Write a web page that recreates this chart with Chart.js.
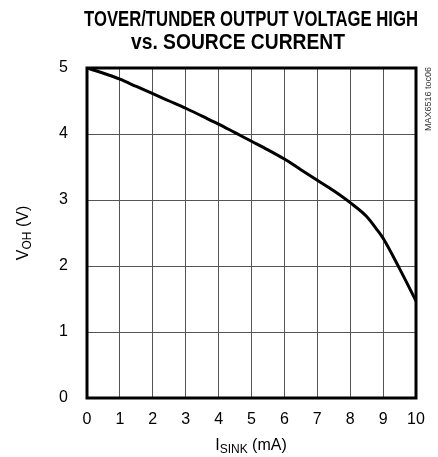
<!DOCTYPE html>
<html>
<head>
<meta charset="utf-8">
<script src="https://cdn.jsdelivr.net/npm/chart.js@4"></script>
<style>
  html, body { margin: 0; padding: 0; background: #fff; }
  #wrap { width: 438px; height: 457px; }
</style>
</head>
<body>
<div id="wrap"><canvas id="chart" width="438" height="457"></canvas></div>
<script>
// Source current (mA) and output voltage high (V)
const currentMA = [0, 0.5, 1, 1.5, 2, 2.5, 3, 3.5, 4, 4.5, 5, 5.5, 6, 6.5, 7, 7.5, 8, 8.5, 8.8, 9, 9.5, 10];
const voltageV  = [5, 4.92, 4.83, 4.72, 4.61, 4.5, 4.39, 4.27, 4.15, 4.02, 3.89, 3.76, 3.62, 3.46, 3.3, 3.14, 2.96, 2.75, 2.56, 2.42, 1.96, 1.47];
const xTicks = [0, 1, 2, 3, 4, 5, 6, 7, 8, 9, 10];
const yTicks = [0, 1, 2, 3, 4, 5];

const titleLines = ['TOVER/TUNDER OUTPUT VOLTAGE HIGH', 'vs. SOURCE CURRENT'];
const narrow = '"Liberation Sans Narrow", "Arial Narrow", "Liberation Sans", sans-serif';

// Titre, légendes des axes avec indices, cadre épais
const decorPlugin = {
  id: 'decor',
  afterDraw(chart) {
    const { ctx, chartArea: a } = chart;
    ctx.save();

    // cadre
    ctx.strokeStyle = '#000';
    ctx.lineWidth = 3;
    ctx.strokeRect(a.left, a.top, a.right - a.left, a.bottom - a.top);

    // titre
    ctx.fillStyle = '#000';
    ctx.textAlign = 'center';
    ctx.textBaseline = 'alphabetic';
    ctx.font = 'bold 22px ' + narrow;
    ctx.fillText(titleLines[0], 251, 26, 334);
    ctx.fillText(titleLines[1], 238, 49, 214);

    // titre axe x : I_SINK (mA)
    drawSub(ctx, 'I', 'SINK', ' (mA)', 251, 450);

    // titre axe y : V_OH (V)
    ctx.save();
    ctx.translate(28, 233);
    ctx.rotate(-Math.PI / 2);
    drawSub(ctx, 'V', 'OH', ' (V)', 0, 0);
    ctx.restore();

    // repère à droite
    ctx.save();
    ctx.translate(429, 99);
    ctx.rotate(-Math.PI / 2);
    ctx.font = '9px ' + narrow;
    ctx.fillStyle = '#333';
    ctx.textAlign = 'center';
    ctx.textBaseline = 'middle';
    ctx.fillText('MAX6516 toc06', 0, 0);
    ctx.restore();

    ctx.restore();
  }
};

// texte avec indice, centré sur cx
function drawSub(ctx, main, sub, rest, cx, y) {
  const big = '16px ' + narrow;
  const small = '12px ' + narrow;
  ctx.font = big;
  const w1 = ctx.measureText(main).width;
  const w3 = ctx.measureText(rest).width;
  ctx.font = small;
  const w2 = ctx.measureText(sub).width;
  let x = cx - (w1 + w2 + w3) / 2;
  ctx.textAlign = 'left';
  ctx.textBaseline = 'alphabetic';
  ctx.fillStyle = '#000';
  ctx.font = big;
  ctx.fillText(main, x, y);
  x += w1;
  ctx.font = small;
  ctx.fillText(sub, x, y + 3);
  x += w2;
  ctx.font = big;
  ctx.fillText(rest, x, y);
}

new Chart(document.getElementById('chart'), {
  type: 'line',
  data: {
    datasets: [{
      data: currentMA.map((x, i) => ({ x: x, y: voltageV[i] })),
      borderColor: '#000',
      borderWidth: 3,
      pointRadius: 0,
      cubicInterpolationMode: 'monotone',
      fill: false
    }]
  },
  options: {
    responsive: false,
    animation: false,
    devicePixelRatio: 1,
    layout: { padding: { left: 0, right: 22, top: 68, bottom: 0 } },
    plugins: { legend: { display: false }, tooltip: { enabled: false } },
    scales: {
      x: {
        type: 'linear',
        min: 0,
        max: 10,
        afterFit(scale) { scale.height = 59; },
        afterBuildTicks(scale) { scale.ticks = xTicks.map(v => ({ value: v })); },
        grid: { color: '#555', lineWidth: 1, drawTicks: false },
        border: { display: false },
        ticks: { padding: 12, color: '#000', font: { family: narrow, size: 16 } }
      },
      y: {
        type: 'linear',
        min: 0,
        max: 5,
        afterFit(scale) { scale.width = 87; },
        afterBuildTicks(scale) { scale.ticks = yTicks.map(v => ({ value: v })); },
        grid: { color: '#555', lineWidth: 1, drawTicks: false },
        border: { display: false },
        ticks: { padding: 19, color: '#000', font: { family: narrow, size: 16 } }
      }
    }
  },
  plugins: [decorPlugin]
});
</script>
</body>
</html>
